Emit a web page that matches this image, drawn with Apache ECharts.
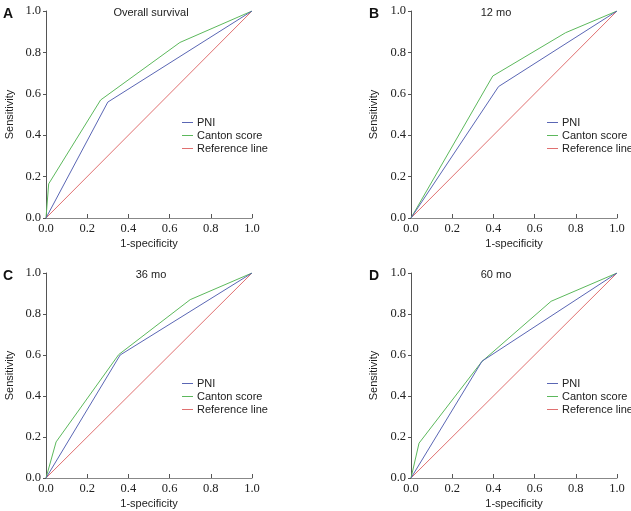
<!DOCTYPE html>
<html>
<head>
<meta charset="utf-8">
<script src="https://cdn.jsdelivr.net/npm/echarts@6/dist/echarts.min.js"></script>
<style>
  html, body { margin: 0; padding: 0; background: #fff; }
  #main { width: 631px; height: 511px; }
</style>
</head>
<body>
<div id="main"></div>
<script>
// ROC points, [1-specificity, sensitivity]
var pniA = [[0, 0], [0.30, 0.56], [1, 1]];
var cantonA = [[0, 0], [0.013, 0.165], [0.265, 0.57], [0.65, 0.848], [1, 1]];
var pniB = [[0, 0], [0.425, 0.635], [1, 1]];
var cantonB = [[0, 0], [0.397, 0.686], [0.75, 0.895], [1, 1]];
var pniC = [[0, 0], [0.36, 0.60], [1, 1]];
var cantonC = [[0, 0], [0.049, 0.176], [0.353, 0.602], [0.70, 0.87], [1, 1]];
var pniD = [[0, 0], [0.345, 0.57], [1, 1]];
var cantonD = [[0, 0], [0.039, 0.17], [0.344, 0.568], [0.68, 0.862], [1, 1]];
var refLine = [[0, 0], [1, 1]];

var panelTitles = ['Overall survival', '12 mo', '36 mo', '60 mo'];
var panelLetters = ['A', 'B', 'C', 'D'];
var seriesNames = ['PNI', 'Canton score', 'Reference line'];

var colPNI = '#5a66b4';
var colCanton = '#5cb85c';
var colRef = '#e07070';

var sans = 'Liberation Sans';
var serif = 'Liberation Serif';

// panel boxes
var boxes = [
    { left: 46, top: 11, width: 206, height: 207 },
    { left: 411, top: 11, width: 206, height: 207 },
    { left: 46, top: 273, width: 206, height: 205 },
    { left: 411, top: 273, width: 206, height: 205 }
];
var panelData = [[pniA, cantonA], [pniB, cantonB], [pniC, cantonC], [pniD, cantonD]];

var myChart = echarts.init(document.getElementById('main'));

var grids = [], xAxes = [], yAxes = [], series = [], titles = [], legends = [];

function fmt(v) { return v.toFixed(1); }

boxes.forEach(function (b, i) {
    var left = i % 2 == 0;
    grids.push({ left: b.left, top: b.top, width: b.width, height: b.height, containLabel: false });
    xAxes.push({
        gridIndex: i, type: 'value', min: 0, max: 1, interval: 0.2,
        name: '1-specificity', nameLocation: 'middle', nameGap: 20,
        nameTextStyle: { fontFamily: sans, fontSize: 11, color: '#222' },
        axisLine: { show: true, lineStyle: { color: '#888', width: 1 } },
        axisTick: { show: true, inside: true, length: 4, lineStyle: { color: '#555' } },
        axisLabel: { formatter: fmt, margin: 4, fontFamily: serif, fontSize: 12.5, color: '#222' },
        splitLine: { show: false }
    });
    yAxes.push({
        gridIndex: i, type: 'value', min: 0, max: 1, interval: 0.2,
        name: 'Sensitivity', nameLocation: 'middle', nameGap: left ? 31 : 32, nameRotate: 90,
        nameTextStyle: { fontFamily: sans, fontSize: 11, color: '#222' },
        axisLine: { show: true, lineStyle: { color: '#555', width: 1 } },
        axisTick: { show: true, inside: false, length: 3, lineStyle: { color: '#555' } },
        axisLabel: { formatter: fmt, margin: 5, fontFamily: serif, fontSize: 12.5, color: '#222' },
        splitLine: { show: false }
    });
    var lines = [panelData[i][0], panelData[i][1], refLine];
    var cols = [colPNI, colCanton, colRef];
    var names = [];
    for (var k = 2; k >= 0; k--) {
        series.push({
            name: seriesNames[k] + '#' + i, type: 'line', xAxisIndex: i, yAxisIndex: i,
            data: lines[k], symbol: 'none', silent: true, animation: false,
            lineStyle: { color: cols[k], width: 1 }, itemStyle: { color: cols[k] }
        });
    }
    for (var k2 = 0; k2 < 3; k2++) {
        names.push({ name: seriesNames[k2] + '#' + i, icon: 'rect', itemStyle: { color: cols[k2] } });
    }
    titles.push({
        text: panelTitles[i], left: b.left + (left ? 100 : 80), top: b.top - 9, textAlign: 'center',
        textStyle: { fontFamily: sans, fontSize: 11, fontWeight: 'normal', color: '#222' }
    });
    titles.push({
        text: panelLetters[i], left: b.left - (left ? 48 : 47), top: b.top - 9,
        textStyle: { fontFamily: sans, fontSize: 14, fontWeight: 'bold', color: '#111' }
    });
    legends.push({
        data: names, orient: 'vertical', padding: 0,
        left: b.left + 136, top: b.top + (i < 2 ? 106 : 105),
        itemWidth: 11, itemHeight: 1, itemGap: 2,
        selectedMode: false,
        formatter: function (n) { return n.split('#')[0]; },
        textStyle: { fontFamily: sans, fontSize: 11, lineHeight: 11, color: '#222', padding: [0, 0, 0, -1] }
    });
});

var option = {
    animation: false,
    backgroundColor: '#fff',
    title: titles,
    legend: legends,
    grid: grids,
    xAxis: xAxes,
    yAxis: yAxes,
    series: series
};
myChart.setOption(option);
</script>
</body>
</html>
